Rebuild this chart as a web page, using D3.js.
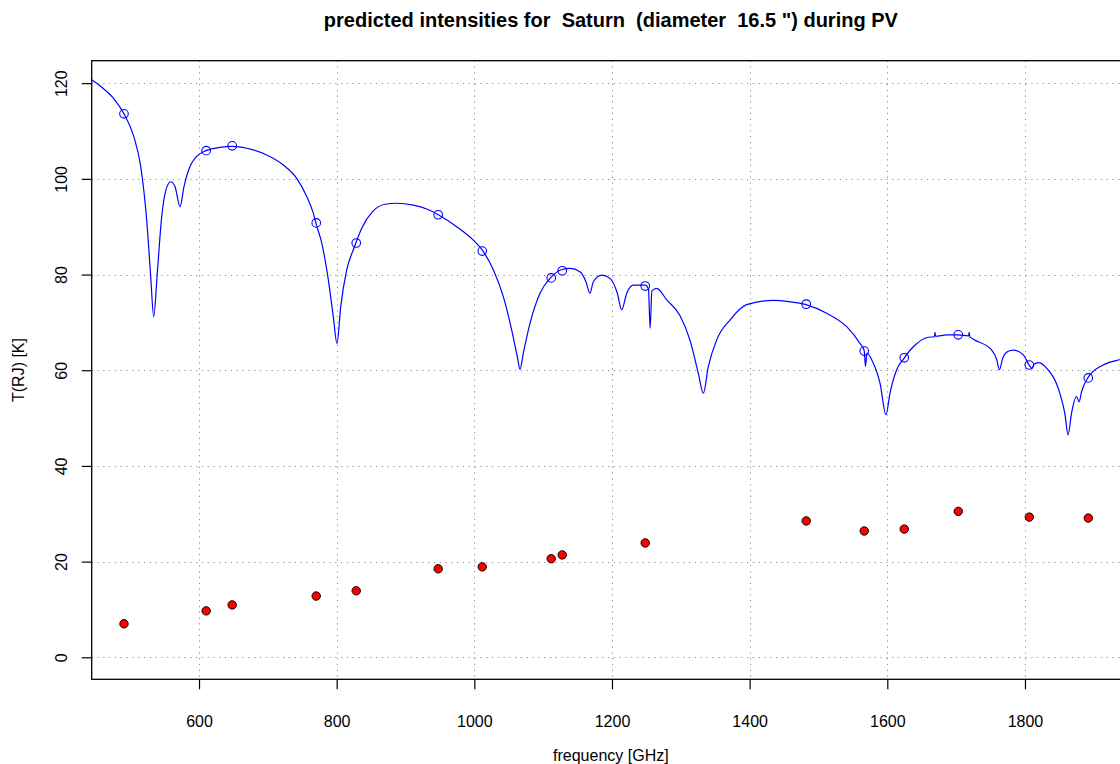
<!DOCTYPE html>
<html>
<head>
<meta charset="utf-8">
<script src="https://cdn.jsdelivr.net/npm/d3@7/dist/d3.min.js"></script>
<style>
  body { margin: 0; background: #fff; }
  svg { display: block; font-family: "Liberation Sans", Arial, sans-serif; }
</style>
</head>
<body>
<div id="chart"></div>
<script>
// model curve (frequency in GHz, T(RJ) in K)
const curveFreq = [444, 460, 475.5, 491, 504.5, 515.3, 524, 529.8, 534.2, 539.4, 545.8, 552, 558.9, 565.1, 572.4, 578.2,
  586.9, 596.6, 610.2, 630.5, 648, 669.3, 698.4, 722.5, 742, 756.5, 766.1, 770, 778.3, 787.9, 795.1, 800.5,
  805.9, 814.6, 824.2, 828.1, 836.4, 852.4, 870.3, 887.2, 911.3, 930.8, 947.6, 974.4, 998.5, 1012.2, 1027.6,
  1042.1, 1054.3, 1062.5, 1066.4, 1071.2, 1080.9, 1095.4, 1111.4, 1126.4, 1139, 1153.5, 1162.2, 1168, 1172.9,
  1185, 1197.1, 1207.7, 1214.1, 1221.4, 1231, 1248, 1253, 1255.4, 1258, 1265, 1279.5, 1298.9, 1313.3, 1325.4,
  1332.7, 1340, 1352, 1371.4, 1395.6, 1434.4, 1458.6, 1481.8, 1511.9, 1541, 1560.3, 1566.6, 1568.2, 1570.5,
  1577.3, 1589.4, 1598.1, 1603.9, 1613.6, 1624.3, 1637.8, 1659.6, 1668.5, 1669.3, 1670.2, 1686.3, 1702.3,
  1718, 1719, 1720, 1725, 1751.7, 1759, 1762.8, 1767.7, 1775, 1783.1, 1797.6, 1806, 1810, 1813, 1819.5,
  1831.7, 1850.6, 1857.9, 1862.7, 1867.6, 1874.9, 1878.7, 1882.2, 1891.8, 1913.6, 1937.8, 1960];
const curveTemp = [120.7, 119.0, 116.9, 113.6, 109.2, 102.6, 91.4, 79.6, 71.2, 80.3, 92.1, 97.7, 99.4, 98.4, 94.2, 98.4,
  102.6, 104.7, 105.9, 106.6, 106.8, 106.4, 105.0, 102.9, 100.1, 96.3, 92.8, 90.7, 86.6, 78.9, 71.2, 65.6,
  73.3, 81.0, 85.2, 86.7, 89.7, 93.2, 94.7, 94.9, 94.5, 93.7, 92.5, 90.0, 87.2, 85.0, 81.0,
  75.4, 68.4, 62.8, 60.2, 63.6, 69.8, 76.1, 79.4, 81.0, 81.3, 80.6, 78.5, 76.1, 78.5,
  79.9, 79.2, 76.1, 72.6, 76.1, 77.8, 77.8, 77.0, 68.8, 76.6, 77.1, 74.7, 71.4, 66.3, 59.4,
  55.2, 60.8, 66.3, 70.5, 73.7, 74.6, 74.3, 73.7, 71.9, 69.1, 65.6, 64.0, 60.8, 63.6,
  62.2, 57.3, 50.7, 55.2, 60.1, 62.5, 64.9, 66.9, 67.0, 67.9, 67.1, 67.4, 67.4,
  67.2, 67.9, 67.0, 66.5, 64.2, 62.2, 60.1, 62.5, 63.9, 64.2, 63.2, 61.1, 60.4, 61.2, 61.6,
  60.4, 55.2, 51.0, 46.5, 51.0, 54.5, 53.4, 55.5, 58.5, 61.1, 62.2, 62.8];

// band centre frequencies with predicted and measured values
const bandFreq = [491, 610.4, 648.2, 770.3, 828.4, 947.5, 1011.5, 1111.7, 1127.7, 1248.3, 1482.2, 1566.5,
  1624.6, 1703.1, 1806.3, 1892];
const bandTemp = [113.6, 105.9, 106.9, 90.8, 86.6, 92.5, 84.9, 79.3, 80.8, 77.6, 73.8, 64.0, 62.6, 67.4,
  61.1, 58.4];
const redTemp = [7.0, 9.7, 10.95, 12.8, 13.9, 18.5, 18.9, 20.6, 21.4, 23.9, 28.5, 26.4, 26.8, 30.5, 29.3, 29.1];

const xTicks = [600, 800, 1000, 1200, 1400, 1600, 1800];
const yTicks = [0, 20, 40, 60, 80, 100, 120];

const W = 1120, H = 764;
const plot = { left: 91.7, top: 60.7, right: 1130, bottom: 679.3 };

const svg = d3.select("#chart").append("svg")
  .attr("width", W).attr("height", H);

const x = d3.scaleLinear().domain([444.1, 1952.6]).range([plot.left, plot.right]);
const y = d3.scaleLinear().domain([-4.6, 124.7]).range([plot.bottom, plot.top]);

svg.append("defs").append("clipPath").attr("id", "clip")
  .append("rect")
  .attr("x", plot.left).attr("y", plot.top)
  .attr("width", plot.right - plot.left).attr("height", plot.bottom - plot.top);

// grid
const grid = svg.append("g").attr("stroke", "#8a8a8a").attr("stroke-width", 1)
  .attr("stroke-dasharray", "1.2 4.6");
grid.selectAll(".gx").data(xTicks).join("line")
  .attr("x1", d => Math.round(x(d)) + 0.5).attr("x2", d => Math.round(x(d)) + 0.5)
  .attr("y1", plot.top).attr("y2", plot.bottom);
grid.selectAll(".gy").data(yTicks).join("line")
  .attr("y1", d => Math.round(y(d)) + 0.5).attr("y2", d => Math.round(y(d)) + 0.5)
  .attr("x1", plot.left).attr("x2", plot.right);

// axes
const xAxis = svg.append("g")
  .attr("transform", `translate(0,${plot.bottom})`)
  .call(d3.axisBottom(x).tickValues(xTicks).tickSize(10).tickPadding(26).tickFormat(d3.format("d")));
const yAxis = svg.append("g")
  .attr("transform", `translate(${plot.left},0)`)
  .call(d3.axisLeft(y).tickValues(yTicks).tickSize(10).tickFormat(d3.format("d")));

[xAxis, yAxis].forEach(a => {
  a.select(".domain").remove();
  a.selectAll("line").attr("stroke", "#000").attr("stroke-width", 1.2);
  a.selectAll("text").attr("fill", "#000").style("font-size", "16px")
    .style("font-family", "'Liberation Sans', Arial, sans-serif");
});
yAxis.selectAll("text")
  .attr("x", null).attr("dy", null)
  .attr("text-anchor", "middle")
  .attr("transform", "translate(-25,0) rotate(-90)");

// box
svg.append("rect")
  .attr("x", plot.left).attr("y", plot.top)
  .attr("width", plot.right - plot.left).attr("height", plot.bottom - plot.top)
  .attr("fill", "none").attr("stroke", "#000").attr("stroke-width", 1.3);

// curve
const line = d3.line().x((d, i) => x(curveFreq[i])).y(d => y(d)).curve(d3.curveMonotoneX);
svg.append("path")
  .attr("clip-path", "url(#clip)")
  .attr("d", line(curveTemp))
  .attr("fill", "none").attr("stroke", "#0000ff").attr("stroke-width", 1.2);

// open circles on curve
svg.append("g").selectAll("circle").data(bandTemp).join("circle")
  .attr("cx", (d, i) => x(bandFreq[i])).attr("cy", d => y(d)).attr("r", 4.3)
  .attr("fill", "none").attr("stroke", "#0000ff").attr("stroke-width", 1.1);

// red points
svg.append("g").selectAll("circle").data(redTemp).join("circle")
  .attr("cx", (d, i) => x(bandFreq[i])).attr("cy", d => y(d)).attr("r", 4.2)
  .attr("fill", "#ff0000").attr("stroke", "#000").attr("stroke-width", 1);

// titles
svg.append("text")
  .attr("x", (plot.left + plot.right) / 2).attr("y", 27)
  .attr("text-anchor", "middle")
  .style("font-size", "20px").style("font-weight", "bold")
  .style("white-space", "pre")
  .text("predicted intensities for  Saturn  (diameter  16.5 \") during PV");

svg.append("text")
  .attr("x", (plot.left + plot.right) / 2).attr("y", 761)
  .attr("text-anchor", "middle")
  .style("font-size", "16px")
  .text("frequency [GHz]");

svg.append("text")
  .attr("transform", `translate(24,${(plot.top + plot.bottom) / 2}) rotate(-90)`)
  .attr("text-anchor", "middle")
  .style("font-size", "16px")
  .text("T(RJ) [K]");
</script>
</body>
</html>
